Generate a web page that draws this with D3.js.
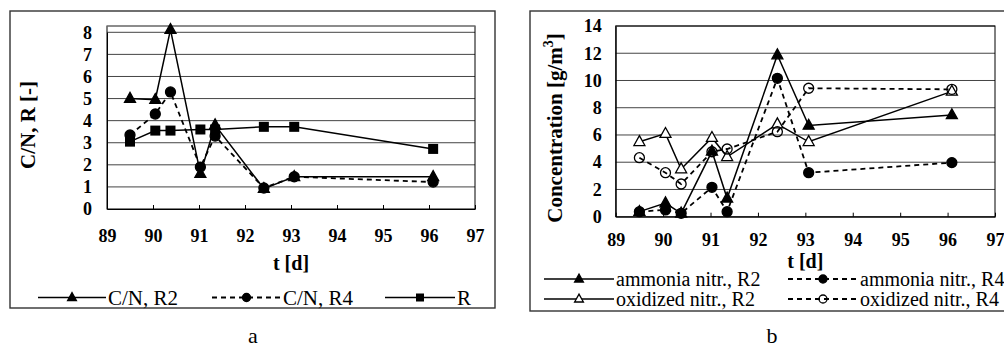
<!DOCTYPE html>
<html><head><meta charset="utf-8">
<script src="https://cdn.jsdelivr.net/npm/d3@7"></script>
<style>
html,body{margin:0;padding:0;background:#fff;}
svg{display:block;}
</style></head>
<body><svg id="c" width="1004" height="347"></svg>
<script>
// ---- data ----
const days = [89.5, 90.05, 90.38, 91.03, 91.35, 92.41, 93.07, 96.09];
const xTicks = [89, 90, 91, 92, 93, 94, 95, 96, 97];
// chart a
const cnR2 = [5.0, 4.95, 8.12, 1.6, 3.8, 0.92, 1.46, 1.46];
const cnR4 = [3.35, 4.3, 5.3, 1.9, 3.3, 0.95, 1.46, 1.22];
const ratioR = [3.05, 3.55, 3.55, 3.6, 3.6, 3.72, 3.72, 2.72];
const yTicksA = [0, 1, 2, 3, 4, 5, 6, 7, 8];
// chart b
const ammR2 = [0.37, 1.0, 0.25, 4.8, 1.35, 11.87, 6.7, 7.47];
const ammR4 = [0.37, 0.5, 0.25, 2.16, 0.37, 10.16, 3.23, 3.97];
const oxR2 = [5.5, 6.1, 3.5, 5.8, 4.4, 6.8, 5.5, 9.2];
const oxR4 = [4.33, 3.23, 2.4, 4.77, 4.97, 6.24, 9.43, 9.35];
const yTicksB = [0, 2, 4, 6, 8, 10, 12, 14];

const FONT = "'Liberation Serif', 'Times New Roman', serif";
const svg = d3.select("#c");

function txt(sel, size, bold){
  return sel.style("font-family", FONT).style("font-size", size+"px")
            .style("font-weight", bold?"bold":"normal").style("fill","#000");
}

function triPath(w){ const h=w*0.9; return `M0,${-h*0.62}L${w/2},${h*0.38}L${-w/2},${h*0.38}Z`; }

function marker(g, type, x, y, s){
  if(type==="triF"||type==="triO"){
    g.append("path").attr("d", triPath(s)).attr("transform",`translate(${x},${y})`)
     .attr("fill", type==="triF"?"#000":"#fff").attr("stroke","#000").attr("stroke-width",1.3);
  } else if(type==="cirF"||type==="cirO"){
    g.append("circle").attr("cx",x).attr("cy",y).attr("r",s/2)
     .attr("fill", type==="cirF"?"#000":"none").attr("stroke","#000").attr("stroke-width",1.3);
  } else if(type==="sq"){
    g.append("rect").attr("x",x-s/2).attr("y",y-s/2).attr("width",s).attr("height",s).attr("fill","#000");
  }
}

function drawPanel(p){
  const g = svg.append("g");
  g.append("rect").attr("x",p.box[0]).attr("y",p.box[1]).attr("width",p.box[2]-p.box[0]).attr("height",p.box[3]-p.box[1])
   .attr("fill","none").attr("stroke","#333").attr("stroke-width",1.4);
  const x = d3.scaleLinear().domain([89,97]).range([p.left,p.right]);
  const y = d3.scaleLinear().domain([0,p.yMax]).range([p.bottom,p.yTop]);
  g.append("g").selectAll("line").data(p.yTicks.filter(d=>d>0)).join("line")
   .attr("x1",p.left).attr("x2",p.right).attr("y1",d=>y(d)).attr("y2",d=>y(d))
   .attr("stroke","#444").attr("stroke-width",1);
  g.append("rect").attr("x",p.left).attr("y",p.top).attr("width",p.right-p.left).attr("height",p.bottom-p.top)
   .attr("fill","none").attr("stroke","#000").attr("stroke-width",1);
  if(p.top < y(p.yMax)-1){
    g.append("line").attr("x1",p.left).attr("x2",p.right).attr("y1",p.top).attr("y2",p.top).attr("stroke","#999").attr("stroke-width",1.2);
  }
  const xa = g.append("g").attr("transform",`translate(0,${p.bottom})`)
    .call(d3.axisBottom(x).tickValues(xTicks).tickFormat(d3.format("d")).tickSizeInner(-4).tickSizeOuter(0).tickPadding(p.xPad));
  xa.select(".domain").attr("stroke","#000");
  xa.selectAll(".tick line").attr("stroke","#000");
  txt(xa.selectAll("text"), 18, true);
  const ya = g.append("g").attr("transform",`translate(${p.left},0)`)
    .call(d3.axisLeft(y).tickValues(p.yTicks).tickFormat(d3.format("d")).tickSize(0).tickPadding(p.left-p.yLabX));
  ya.select(".domain").attr("stroke","#000");
  txt(ya.selectAll("text"), 18, true);
  txt(g.append("text").attr("x",(p.left+p.right)/2).attr("y",p.xTitleY).attr("text-anchor","middle"), 20, true).text("t [d]");
  p.series.forEach(s=>{
    const line = d3.line().x((d,i)=>x(days[i])).y(d=>y(d));
    g.append("path").datum(s.values).attr("d",line).attr("fill","none").attr("stroke","#000")
     .attr("stroke-width", s.dash?1.8:1.5).attr("stroke-dasharray", s.dash?"5,4":null);
  });
  p.series.forEach(s=>{
    s.values.forEach((v,i)=>marker(g, s.marker, x(days[i]), y(v), s.size));
  });
  p.legend.forEach(l=>{
    const s = p.series[l.idx];
    g.append("line").attr("x1",l.x1).attr("x2",l.x2).attr("y1",l.y).attr("y2",l.y)
     .attr("stroke","#000").attr("stroke-width", s.dash?1.8:1.5).attr("stroke-dasharray", s.dash?"5,4":null);
    marker(g, s.marker, (l.x1+l.x2)/2, l.y, s.size*0.8);
    txt(g.append("text").attr("x",l.x2+2).attr("y",l.y+7), p.legSize, false).text(s.name);
  });
  return g;
}

drawPanel({
  box:[10,11,495,308], left:107, right:475, top:26, bottom:209, yTop:32.3, yMax:8, yTicks:yTicksA,
  yLabX:92, xPad:20, xTitleY:270,
  legSize:21,
  series:[
    {name:"C/N, R2", values:cnR2, marker:"triF", size:11, dash:false},
    {name:"C/N, R4", values:cnR4, marker:"cirF", size:10, dash:true},
    {name:"R", values:ratioR, marker:"sq", size:10, dash:false}
  ],
  legend:[
    {idx:0, x1:38, x2:106, y:297.5},
    {idx:1, x1:212, x2:281, y:297.5},
    {idx:2, x1:385, x2:455, y:297.5}
  ]
});
txt(svg.append("text").attr("transform","translate(35,125) rotate(-90)").attr("text-anchor","middle"), 21, true).text("C/N,  R [-]");
txt(svg.append("text").attr("x",253).attr("y",343).attr("text-anchor","middle"), 22, false).text("a");

drawPanel({
  box:[530,11,1006,311], left:615.7, right:995, top:26, bottom:216.7, yTop:26, yMax:14, yTicks:yTicksB,
  yLabX:601.7, xPad:17, xTitleY:268,
  legSize:20,
  series:[
    {name:"ammonia nitr., R2", values:ammR2, marker:"triF", size:11, dash:false},
    {name:"ammonia nitr., R4", values:ammR4, marker:"cirF", size:10, dash:true},
    {name:"oxidized nitr., R2", values:oxR2, marker:"triO", size:11, dash:false},
    {name:"oxidized nitr., R4", values:oxR4, marker:"cirO", size:10, dash:true}
  ],
  legend:[
    {idx:0, x1:544, x2:614, y:279},
    {idx:1, x1:788, x2:858, y:279},
    {idx:2, x1:544, x2:614, y:299},
    {idx:3, x1:788, x2:858, y:299}
  ]
});
const ty = txt(svg.append("text").attr("transform","translate(562,128) rotate(-90)").attr("text-anchor","middle"), 21, true);
ty.append("tspan").text("Concentration [g/m");
ty.append("tspan").attr("dy",-9).style("font-size","14px").text("3");
ty.append("tspan").attr("dy",9).text("]");
txt(svg.append("text").attr("x",772).attr("y",343).attr("text-anchor","middle"), 22, false).text("b");
</script>
</body></html>
